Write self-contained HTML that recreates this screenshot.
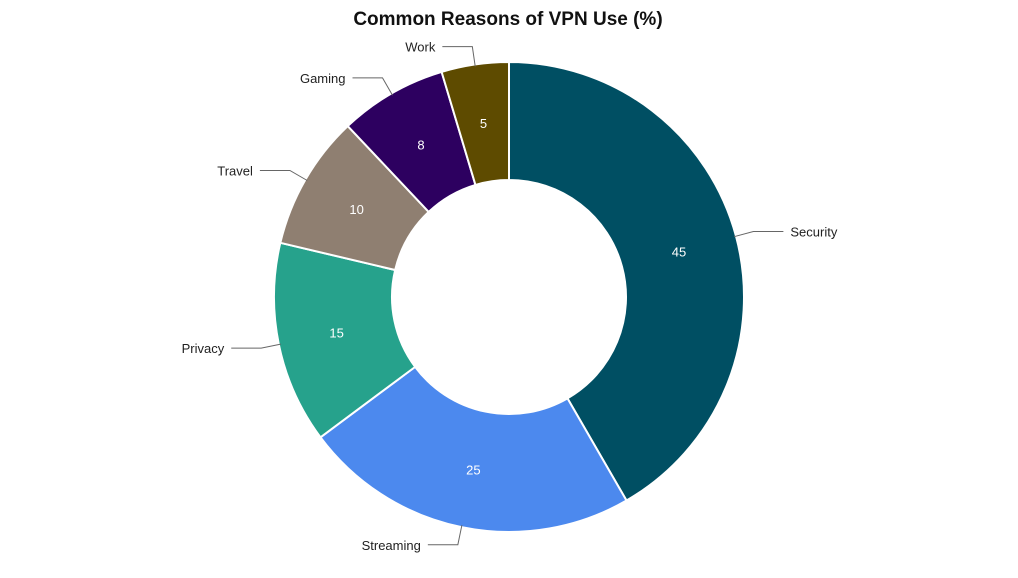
<!DOCTYPE html>
<html><head><meta charset="utf-8"><style>
body{margin:0;background:#fff;width:1018px;height:573px;overflow:hidden;font-family:"Liberation Sans",sans-serif}
</style></head><body>
<svg width="1018" height="573">
<text x="508" y="25" text-anchor="middle" font-size="19" font-weight="bold" fill="#111">Common Reasons of VPN Use (%)</text>
<g id="slices"></g><g id="labels"></g>
</svg>
<script>
const categories=["Security","Streaming","Privacy","Travel","Gaming","Work"];
const values=[45,25,15,10,8,5];
const colors=["#004f63","#4c89ee","#26a28c","#8f7f71","#2d0060","#5e4b00"];
const cx=509,cy=297,R=235,r=117;
const total=values.reduce((a,b)=>a+b,0);
const ns="http://www.w3.org/2000/svg";
const gs=document.getElementById('slices'),gl=document.getElementById('labels');
function pt(rad,a){return [cx+rad*Math.sin(a),cy-rad*Math.cos(a)];}
let acc=0;
values.forEach((v,i)=>{
  const a0=acc/total*2*Math.PI,a1=(acc+v)/total*2*Math.PI;acc+=v;
  const large=(a1-a0)>Math.PI?1:0;
  const p0=pt(R,a0),p1=pt(R,a1),q1=pt(r,a1),q0=pt(r,a0);
  const p=document.createElementNS(ns,'path');
  p.setAttribute('d',`M${p0}A${R},${R} 0 ${large} 1 ${p1}L${q1}A${r},${r} 0 ${large} 0 ${q0}Z`);
  p.setAttribute('fill',colors[i]);p.setAttribute('stroke','#fff');p.setAttribute('stroke-width','2');p.setAttribute('stroke-linejoin','round');
  
  
  gs.appendChild(p);
  const m=(a0+a1)/2;
  const c=pt((R+r)/2,m);
  const t=document.createElementNS(ns,'text');
  t.setAttribute('x',c[0]);t.setAttribute('y',c[1]+5);t.setAttribute('text-anchor','middle');
  t.setAttribute('font-size','13');t.setAttribute('fill','#fff');t.textContent=v;
  
  
  gs.appendChild(t);
  const e0=pt(R-2,m),e1=pt(R+18,m);
  const right=Math.sin(m)>=0;
  const x2=e1[0]+(right?30:-30);
  const l=document.createElementNS(ns,'polyline');
  l.setAttribute('points',`${e0} ${e1} ${x2},${e1[1]}`);
  l.setAttribute('fill','none');l.setAttribute('stroke','#666');l.setAttribute('stroke-width','1');
  
  
  gl.appendChild(l);
  const tl=document.createElementNS(ns,'text');
  tl.setAttribute('x',x2+(right?7:-7));tl.setAttribute('y',e1[1]+5);
  tl.setAttribute('text-anchor',right?'start':'end');tl.setAttribute('font-size','13');tl.setAttribute('fill','#222');
  tl.textContent=categories[i];
  
  
  gl.appendChild(tl);
});
</script>
</body></html>
